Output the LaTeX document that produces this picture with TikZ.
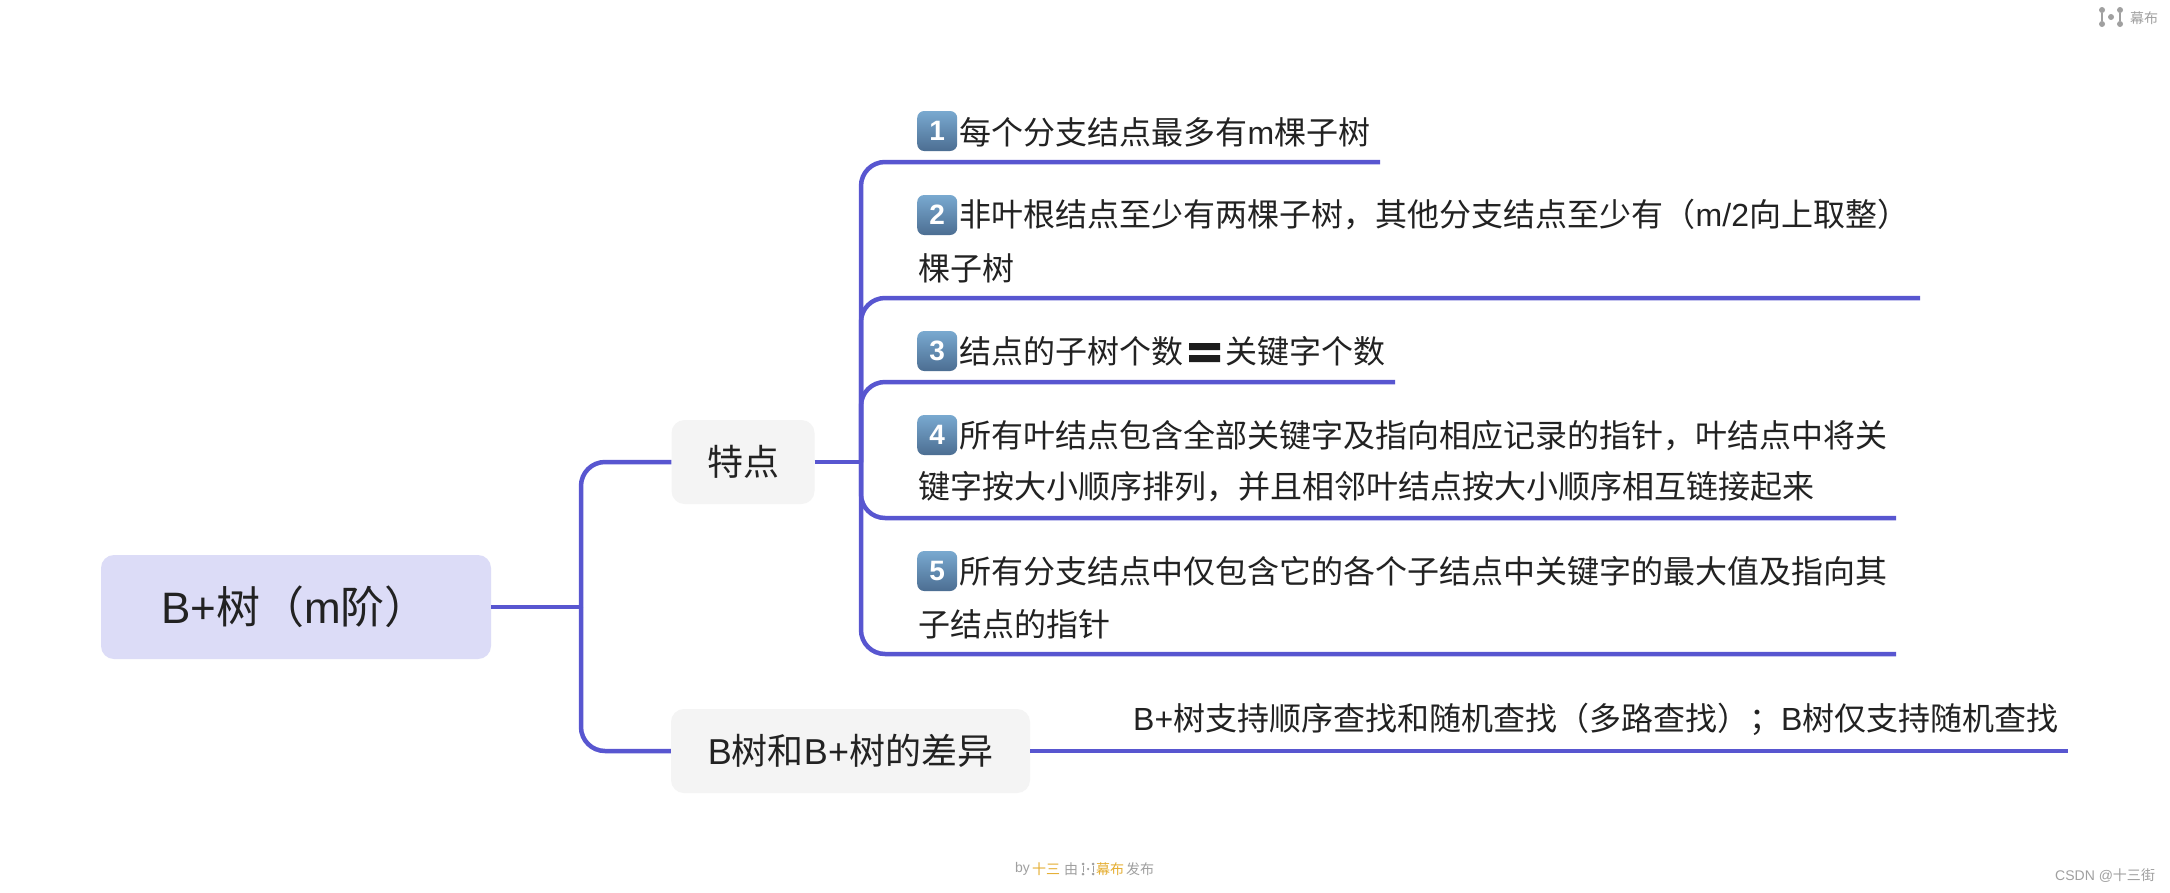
\documentclass[tikz,border=0pt]{standalone}
\usepackage{fontspec}
\setmainfont{Noto Sans CJK SC}
\newfontfamily\latf{Liberation Sans}
\newcommand{\lat}[1]{{\latf #1}}
\usetikzlibrary{calc}
\definecolor{lineblue}{HTML}{5856D0}
\definecolor{rootfill}{HTML}{DCDCF7}
\definecolor{subfill}{HTML}{F4F4F4}
\definecolor{inktext}{HTML}{222222}
\definecolor{footgray}{HTML}{A0A0A0}
\definecolor{footorange}{HTML}{E5AE32}
\definecolor{KeyTop}{HTML}{79A9D0}
\definecolor{KeyBot}{HTML}{4C6E92}
\tikzset{
  x=1pt,y=-1pt,
  conn/.style={draw=lineblue,line width=4.5pt,rounded corners=24pt},
  rootbox/.style={fill=rootfill,rounded corners=13pt,minimum width=390pt,minimum height=104pt,inner sep=0pt,text=inktext},
  subbox/.style={fill=subfill,rounded corners=13pt,minimum height=84pt,inner sep=0pt,text=inktext,font=\fontsize{36}{36}\selectfont},
  leaf/.style={anchor=west,inner sep=0pt,text=inktext,font=\fontsize{32}{32}\selectfont},
  keycap/.style={anchor=west,minimum size=40pt,inner sep=0pt,rounded corners=7pt,top color=KeyTop,bottom color=KeyBot,text=white,font=\latf\bfseries\fontsize{28}{28}\selectfont},
  small/.style={inner sep=0pt,font=\fontsize{14}{14}\selectfont},
  logodot/.style={circle,inner sep=0pt,minimum size=4pt},
}
\begin{document}
\begin{tikzpicture}
\useasboundingbox (0,0) rectangle (2170,892);
\fill[white] (0,0) rectangle (2170,892);
% nodes
\node[rootbox] (root) at (296,607) {};
\node[anchor=west,inner sep=0pt,text=inktext,font=\fontsize{44}{44}\selectfont] (roottxt) at (161,607) {\lat{B+}树（\lat{m}阶）};
\node[subbox,minimum width=143pt] (te) at (743,462) {特点};
\node[subbox,minimum width=359pt] (diff) at (850.5,751) {\lat{B}树和\lat{B+}树的差异};
\coordinate (rootj) at (581,607);
\coordinate (spine) at (861,462);
% leaf icons and text
\node[keycap] (k1) at (917,131) {1};
\node[leaf] (t1) at (959.5,132) {每个分支结点最多有\lat{m}棵子树};
\node[keycap] (k2) at (917,215) {2};
\node[leaf] (t2) at (959.5,215) {非叶根结点至少有两棵子树，其他分支结点至少有（\lat{m/2}向上取整）};
\node[leaf] (t2b) at (918,268) {棵子树};
\node[keycap] (k3) at (917,351) {3};
\node[leaf] (t3) at (959.5,351) {结点的子树个数};
\fill[inktext!85!black] (1189,343) rectangle (1220,350) (1189,355) rectangle (1220,362);
\node[leaf] (t3b) at (1225,351) {关键字个数};
\node[keycap] (k4) at (917,435) {4};
\node[leaf] (t4) at (959.5,436) {所有叶结点包含全部关键字及指向相应记录的指针，叶结点中将关};
\node[leaf] (t4b) at (918,487) {键字按大小顺序排列，并且相邻叶结点按大小顺序相互链接起来};
\node[keycap] (k5) at (917,571) {5};
\node[leaf] (t5) at (959.5,571) {所有分支结点中仅包含它的各个子结点中关键字的最大值及指向其};
\node[leaf] (t5b) at (918,624) {子结点的指针};
\node[leaf] (t6) at (1133,719) {\lat{B+}树支持顺序查找和随机查找（多路查找）；\lat{B}树仅支持随机查找};
% underline ends
\coordinate (e1) at (1380,162);
\coordinate (e2) at (1920,298);
\coordinate (e3) at (1395,382);
\coordinate (e4) at (1896,518);
\coordinate (e5) at (1896,654);
\coordinate (e6) at (2068,751);
% connectors
\draw[conn] (root.east) -- (rootj);
\draw[conn] (rootj) |- (te.west);
\draw[conn] (rootj) |- (diff.west);
\draw[conn] (te.east) -- (spine);
\draw[conn] (spine) |- (e1);
\draw[conn] (spine) |- (e2);
\draw[conn] (spine) |- (e3);
\draw[conn] (spine) |- (e4);
\draw[conn] (spine) |- (e5);
\draw[conn] (diff.east) -- (e6);
% top-right logo
\node[logodot,fill=footgray,minimum size=6pt] (a1) at (2102,10) {};
\node[logodot,fill=footgray,minimum size=6pt] (a2) at (2102,24) {};
\node[logodot,fill=footgray,minimum size=6pt] (a3) at (2120,10) {};
\node[logodot,fill=footgray,minimum size=6pt] (a4) at (2120,24) {};
\node[logodot,fill=footgray,minimum size=6pt] (a5) at (2111,17) {};
\draw[footgray,line width=2.5pt] (a1) -- (a2);
\draw[footgray,line width=2.5pt] (a3) -- (a4);
\node[small,text=footgray,anchor=west] (mubu) at (2130,18) {幕布};
% footer
\node[small,text=footgray,anchor=west] (f1) at (1015,869) {\lat{by}};
\node[small,text=footorange,anchor=west] (f2) at (1032,869) {十三};
\node[small,text=footgray,anchor=west] (f3) at (1064,869) {由};
\node[logodot,fill=footgray,minimum size=3pt] (b1) at (1083,864) {};
\node[logodot,fill=footgray,minimum size=3pt] (b2) at (1083,874) {};
\node[logodot,fill=footgray,minimum size=3pt] (b3) at (1093,864) {};
\node[logodot,fill=footgray,minimum size=3pt] (b4) at (1093,874) {};
\node[logodot,fill=footgray,minimum size=2.5pt] (b5) at (1088,869) {};
\draw[footgray,line width=1pt] (b1) -- (b2);
\draw[footgray,line width=1pt] (b3) -- (b4);
\node[small,text=footorange,anchor=west] (f4) at (1096,869) {幕布};
\node[small,text=footgray,anchor=west] (f5) at (1126,869) {发布};
% watermark
\node[small,text=footgray,anchor=west] (wm) at (2055,876) {\lat{CSDN @}十三街};
\end{tikzpicture}
\end{document}
